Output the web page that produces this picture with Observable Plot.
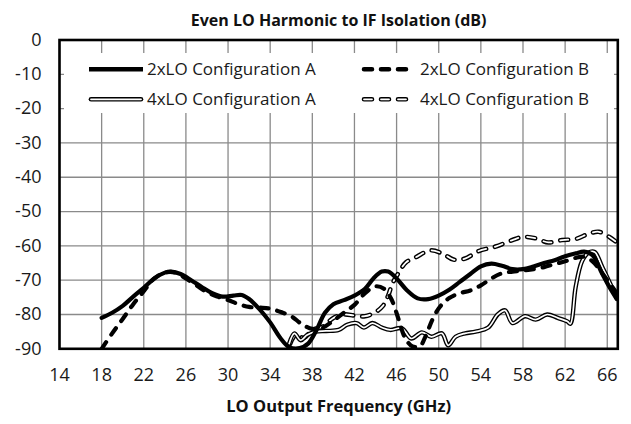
<!DOCTYPE html>
<html>
<head>
<meta charset="utf-8">
<script src="https://cdn.jsdelivr.net/npm/d3@7"></script>
<script src="https://cdn.jsdelivr.net/npm/@observablehq/plot@0.6"></script>
<style>
  html, body { margin: 0; padding: 0; background: #fff; }
  #wrap { position: relative; width: 631px; height: 424px; font-family: 'Open Sans', sans-serif; }
  #legend { position: absolute; left: 64px; top: 53px; width: 550px; height: 60px; background: #fff; }
</style>
</head>
<body>
<div id="wrap">
  <div id="chart"></div>
  <div id="legend"></div>
</div>
<script>
// ---- data ----
const titleText = "Even LO Harmonic to IF Isolation (dB)";
const xTitleText = "LO Output Frequency (GHz)";
const xTicks = [14, 18, 22, 26, 30, 34, 38, 42, 46, 50, 54, 58, 62, 66];
const yTicks = [0, -10, -20, -30, -40, -50, -60, -70, -80, -90];
const seriesNames = ["2xLO Configuration A", "2xLO Configuration B", "4xLO Configuration A", "4xLO Configuration B"];

const freq2A = [18, 19, 20, 21, 22, 23, 24, 24.6, 25.5, 26.5, 27.5, 28.5, 29.5, 30.5, 31.3, 32, 33, 34, 35, 35.8, 36.8, 37.6, 38.4, 39.2, 40, 41, 42, 43, 43.8, 44.6, 45.2, 46, 47, 48, 49, 50, 51, 52, 53, 54, 55, 56, 57, 58, 59, 60, 61, 62, 63, 63.8, 64.6, 65.5, 66.2, 66.9];
const val2A  = [-81, -79.5, -77.5, -74.8, -72.2, -69.5, -67.8, -67.5, -68.2, -70, -72, -73.8, -74.8, -74.5, -74.3, -75.5, -78.5, -82.3, -87, -89.5, -89.8, -88.5, -84.5, -79.5, -77, -75.8, -74.5, -72.5, -69.5, -67.5, -67.5, -69.5, -73, -75.3, -75.5, -74.5, -72.8, -70.5, -68.2, -66, -65.2, -65.8, -66.8, -66.8, -66, -65, -64.2, -63, -62.2, -61.7, -62.7, -68, -72, -75.5];

const freq2B = [18, 19, 20, 21, 22, 23, 24, 25, 26, 27, 28, 29, 30, 31, 32, 33, 34, 35, 36, 37, 38, 39, 40, 41, 42, 43, 44, 44.8, 45.5, 46.2, 46.8, 47.5, 48.2, 48.8, 49.4, 50.1, 51, 52, 53, 54, 55, 56, 57, 58, 59, 60, 61, 62, 63, 63.8, 64.6, 65.4, 66.2, 66.9];
const val2B  = [-90, -85.5, -81.3, -77, -73.2, -69.5, -67.8, -67.8, -69.5, -71.5, -73.5, -74.8, -75.8, -77, -77.8, -78, -78.3, -79.3, -80.5, -82.8, -84.2, -83.8, -81.8, -79.5, -77.2, -73.8, -71.8, -72.5, -75.5, -81.5, -86.8, -89.3, -89.3, -86, -81.5, -77.8, -75.2, -73.8, -73, -71.5, -69.5, -68, -67.5, -67.2, -66.8, -66.2, -65.3, -64.5, -63.5, -63.2, -64.5, -67.5, -70.8, -73.8];

const freq4A = [35.8, 36.3, 36.9, 37.5, 38.3, 39.3, 40.5, 41.3, 42.2, 42.9, 43.7, 44.6, 45.4, 46.5, 47.4, 48.4, 49.3, 50.3, 50.9, 51.6, 52.5, 53.5, 54.7, 55.6, 56.3, 57, 58.2, 59.2, 60.3, 61.3, 62.2, 62.5, 63, 63.6, 64.2, 64.8, 65.5, 66.2, 66.9];
const val4A  = [-88.5, -85.5, -87.5, -86, -85, -84.8, -84.5, -83, -82.5, -83.8, -82.5, -83.8, -84.5, -84, -87, -85.2, -86.5, -85.5, -89, -86.5, -85.5, -85, -83.8, -80, -78.8, -82.5, -80.5, -81.5, -80, -81, -82, -82.7, -72, -64.5, -62, -61.8, -66, -70.5, -75];

const freq4B = [35.9, 36.4, 37.2, 38, 39, 40, 41, 42, 43, 44, 44.7, 45.2, 45.6, 46.2, 46.9, 47.9, 49.2, 50.4, 51.4, 52.5, 53.8, 55.4, 57, 58, 59.2, 60.4, 61.7, 63, 64.3, 65.2, 66.2, 66.9];
const val4B  = [-88.5, -86, -86.8, -84.5, -83.5, -81, -80, -80.3, -80.5, -79.3, -77.5, -74.5, -71, -67.8, -64.8, -63.2, -61.3, -62.3, -64, -63.7, -61.5, -60.2, -58.3, -57.4, -57.8, -59, -58.3, -58, -56.4, -55.9, -57.4, -59];

// ---- build tables ----
const toRows = (fs, vs) => fs.map((f, i) => ({f, v: vs[i]}));
const d2A = toRows(freq2A, val2A);
const d2B = toRows(freq2B, val2B);
const d4A = toRows(freq4A, val4A);
const d4B = toRows(freq4B, val4B);

const curve = "catmull-rom";
const dash = "8,9";
const gridStyle = {stroke: "#8a8a8a", strokeOpacity: 1, strokeWidth: 1.3};

const chart = Plot.plot({
  width: 631,
  height: 424,
  marginTop: 39.5,
  marginBottom: 424 - 348.3,
  marginLeft: 59,
  marginRight: 13.7,
  style: {fontFamily: "'Open Sans', sans-serif", fontSize: "18px", color: "#1a1a1a", background: "#fff", overflow: "visible"},
  x: {domain: [14, 67]},
  y: {domain: [-90, 0]},
  marks: [
    Plot.gridX(xTicks, gridStyle),
    Plot.gridY(yTicks, gridStyle),
    Plot.axisX(xTicks, {tickSize: 0, tickPadding: 19, label: null, tickFormat: d => String(d), fontSize: 18}),
    Plot.axisY(yTicks, {tickSize: 0, tickPadding: 18, label: null, tickFormat: d => String(d), fontSize: 18}),
    // 4xLO B : double dashed
    Plot.line(d4B, {x: "f", y: "v", curve, stroke: "#000", strokeWidth: 4.6, strokeDasharray: dash, strokeLinecap: "round", clip: true}),
    Plot.line(d4B, {x: "f", y: "v", curve, stroke: "#fff", strokeWidth: 1.8, strokeDasharray: dash, strokeLinecap: "round", clip: true}),
    // 4xLO A : double solid
    Plot.line(d4A, {x: "f", y: "v", curve, stroke: "#000", strokeWidth: 4.4, clip: true}),
    Plot.line(d4A, {x: "f", y: "v", curve, stroke: "#fff", strokeWidth: 1.7, clip: true}),
    // 2xLO B : dashed
    Plot.line(d2B, {x: "f", y: "v", curve, stroke: "#000", strokeWidth: 4.2, strokeDasharray: dash, strokeLinecap: "round", clip: true}),
    // 2xLO A : solid
    Plot.line(d2A, {x: "f", y: "v", curve, stroke: "#000", strokeWidth: 4.2, clip: true}),
    Plot.frame({stroke: "#000", strokeWidth: 2.6}),
    Plot.text([titleText], {text: d => d, frameAnchor: "top", lineAnchor: "middle", dy: -19, fontWeight: "bold", fontSize: 16, fill: "#111"}),
    Plot.text([xTitleText], {text: d => d, frameAnchor: "bottom", lineAnchor: "middle", dy: 58, fontWeight: "bold", fontSize: 16.5, fill: "#111"})
  ]
});
document.getElementById("chart").appendChild(chart);

// ---- legend (HTML overlay with small SVG samples) ----
const legendItems = [
  {name: seriesNames[0], col: 0, row: 0, kind: "solid"},
  {name: seriesNames[1], col: 1, row: 0, kind: "dash"},
  {name: seriesNames[2], col: 0, row: 1, kind: "double"},
  {name: seriesNames[3], col: 1, row: 1, kind: "doubledash"}
];
const ns = "http://www.w3.org/2000/svg";
const lg = document.createElementNS(ns, "svg");
lg.setAttribute("width", 550);
lg.setAttribute("height", 60);
lg.style.fontFamily = "'Open Sans', sans-serif";
const colX = [25, 298];
const rowY = [16.3, 46.3];
const sampleLen = 54;
function addLine(x1, x2, y, stroke, w, dasharray, cap) {
  const l = document.createElementNS(ns, "line");
  l.setAttribute("x1", x1); l.setAttribute("x2", x2);
  l.setAttribute("y1", y); l.setAttribute("y2", y);
  l.setAttribute("stroke", stroke); l.setAttribute("stroke-width", w);
  if (dasharray) l.setAttribute("stroke-dasharray", dasharray);
  if (cap) l.setAttribute("stroke-linecap", cap);
  lg.appendChild(l);
}
for (const it of legendItems) {
  const x0 = colX[it.col], y = rowY[it.row], x1 = x0 + sampleLen;
  if (it.kind === "solid") addLine(x0, x1, y, "#000", 4.6);
  if (it.kind === "dash") addLine(x0 + 2, x1 - 2, y, "#000", 4.6, dash, "round");
  if (it.kind === "double") { addLine(x0 + 2, x1 - 2, y, "#000", 4.6, null, "round"); addLine(x0 + 2, x1 - 2, y, "#fff", 1.8, null, "round"); }
  if (it.kind === "doubledash") { addLine(x0 + 2, x1 - 2, y, "#000", 4.6, dash, "round"); addLine(x0 + 2, x1 - 2, y, "#fff", 1.8, dash, "round"); }
  const t = document.createElementNS(ns, "text");
  t.setAttribute("x", x1 + 4);
  t.setAttribute("y", y);
  t.setAttribute("dy", "0.35em");
  t.setAttribute("font-size", 17);
  t.setAttribute("fill", "#1a1a1a");
  t.textContent = it.name;
  lg.appendChild(t);
}
document.getElementById("legend").appendChild(lg);
</script>
</body>
</html>
